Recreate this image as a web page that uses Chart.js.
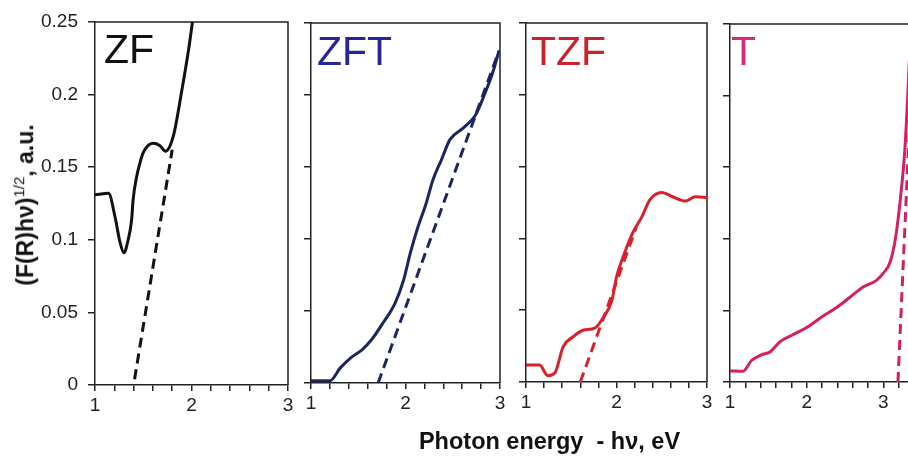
<!DOCTYPE html>
<html><head><meta charset="utf-8">
<script src="https://cdn.jsdelivr.net/npm/chart.js@4/dist/chart.umd.min.js"></script>
<style>
html,body{margin:0;padding:0;background:#fff;}
body{width:908px;height:456px;overflow:hidden;position:relative;font-family:"Liberation Sans",Arial,sans-serif;}
canvas{position:absolute;top:0;}
.lbl{position:absolute;font-size:41px;line-height:41px;white-space:nowrap;}
#xt{position:absolute;left:0;width:1099px;text-align:center;top:427px;font-weight:bold;font-size:23.5px;line-height:28px;color:#111;white-space:nowrap;}
#yt{position:absolute;left:22px;top:205px;width:0;height:0;}
#yt span{position:absolute;transform:translate(-50%,-50%) rotate(-90deg);font-weight:bold;font-size:23px;line-height:24px;color:#111;white-space:nowrap;}
#yt sup{font-weight:normal;font-size:15px;}
</style></head><body>
<canvas id="c1"></canvas><canvas id="c2"></canvas><canvas id="c3"></canvas><canvas id="c4"></canvas>
<div class="lbl" style="left:104px;top:29px;color:#111;">ZF</div>
<div class="lbl" style="left:317px;top:31px;color:#26259a;">ZFT</div>
<div class="lbl" style="left:531px;top:31px;color:#c9222b;">TZF</div>
<div class="lbl" style="left:731px;top:31px;color:#d82a78;">T</div>
<div id="xt">Photon energy&nbsp; - hν, eV</div>
<div id="yt"><span>(F(R)hν)<sup>1/2</sup>, a.u.</span></div>
<script>
// ---- data ----
const panelNames = ['ZF', 'ZFT', 'TZF', 'T'];
const xTickLabels = ['1', '2', '3'];
const yTickLabels = ['0', '0.05', '0.1', '0.15', '0.2', '0.25'];

const zfX = [1.00, 1.14, 1.21, 1.26, 1.30, 1.34, 1.38, 1.394, 1.43, 1.466, 1.50, 1.60, 1.67, 1.73, 1.81, 1.90, 1.97, 2.01];
const zfY = [0.131, 0.132, 0.115, 0.098, 0.091, 0.099, 0.114, 0.127, 0.143, 0.153, 0.160, 0.1665, 0.165, 0.161, 0.171, 0.203, 0.231, 0.250];
const zfFitX = [1.41, 1.80];
const zfFitY = [0.004, 0.162];

const zftX = [1.00, 1.20, 1.31, 1.43, 1.54, 1.64, 1.76, 1.89, 1.98, 2.05, 2.13, 2.22, 2.29, 2.38, 2.47, 2.61, 2.74, 2.84, 2.93, 2.99];
const zftY = [0.0015, 0.0015, 0.0105, 0.018, 0.023, 0.030, 0.0415, 0.0555, 0.0715, 0.090, 0.108, 0.125, 0.141, 0.155, 0.169, 0.177, 0.186, 0.201, 0.217, 0.231];
const zftFitX = [1.71, 2.98];
const zftFitY = [0.0, 0.229];

const tzfX = [1.00, 1.15, 1.24, 1.32, 1.41, 1.52, 1.63, 1.76, 1.85, 1.95, 2.00, 2.09, 2.18, 2.28, 2.37, 2.50, 2.62, 2.76, 2.87, 3.00];
const tzfY = [0.0118, 0.0118, 0.0045, 0.0065, 0.0245, 0.0315, 0.036, 0.0375, 0.0445, 0.057, 0.073, 0.090, 0.104, 0.115, 0.127, 0.132, 0.129, 0.126, 0.129, 0.1285];
const tzfFitX = [1.60, 2.22];
const tzfFitY = [0.0, 0.108];

const tX = [1.00, 1.17, 1.28, 1.41, 1.52, 1.65, 1.80, 2.00, 2.21, 2.39, 2.56, 2.74, 2.91, 3.00, 3.09, 3.16, 3.22, 3.28, 3.32, 3.36];
const tY = [0.0077, 0.0075, 0.015, 0.019, 0.021, 0.028, 0.0325, 0.038, 0.046, 0.052, 0.059, 0.0665, 0.071, 0.076, 0.084, 0.101, 0.127, 0.162, 0.202, 0.250];
const tFitX = [3.19, 3.40];
const tFitY = [0.0, 0.25];

// ---- helpers ----
function pts(xs, ys) { return xs.map((x, i) => ({x: x, y: ys[i]})); }

const framePlugin = {
  id: 'frame',
  beforeDatasetsDraw(chart) {
    const {ctx, chartArea: a} = chart;
    ctx.save();
    ctx.strokeStyle = '#222';
    ctx.lineWidth = 1.5;
    ctx.beginPath();
    ctx.moveTo(a.left, a.top);
    ctx.lineTo(a.right, a.top);
    ctx.lineTo(a.right, a.bottom);
    ctx.stroke();
    ctx.restore();
  }
};

const panels = [
  {id: 'c1', left: 95, right: 288, top: 22, bottom: 385, xmax: 3, showY: true,
   color: '#111111', solid: pts(zfX, zfY), fit: pts(zfFitX, zfFitY)},
  {id: 'c2', left: 311, right: 500, top: 23, bottom: 383, xmax: 3, showY: false,
   color: '#1d2560', solid: pts(zftX, zftY), fit: pts(zftFitX, zftFitY)},
  {id: 'c3', left: 526, right: 707, top: 23, bottom: 382, xmax: 3, showY: false,
   color: '#d6222a', solid: pts(tzfX, tzfY), fit: pts(tzfFitX, tzfFitY)},
  {id: 'c4', left: 730, right: 921.7, top: 24, bottom: 382, xmax: 3.5, showY: false,
   color: '#d41f62', solid: pts(tX, tY), fit: pts(tFitX, tFitY)}
];

const tickFont = {family: '"Liberation Sans", Arial, sans-serif', size: 19};
const rightPad = 10;

panels.forEach(p => {
  const yW = p.showY ? p.left : 12;
  const cv = document.getElementById(p.id);
  const w = Math.ceil(yW + (p.right - p.left) + rightPad);
  cv.width = w; cv.height = 456;
  cv.style.left = (p.left - yW) + 'px';
  cv.style.width = w + 'px'; cv.style.height = '456px';
  new Chart(cv, {
    type: 'line',
    data: {
      datasets: [
        {data: p.solid, borderColor: p.color, borderWidth: 3, pointRadius: 0,
         cubicInterpolationMode: 'monotone', fill: false},
        {data: p.fit, borderColor: p.color, borderWidth: 3, pointRadius: 0,
         borderDash: [10, 6], tension: 0, fill: false}
      ]
    },
    options: {
      responsive: false, animation: false, devicePixelRatio: 1, events: [],
      layout: {padding: {left: 0, right: (w - yW - (p.right - p.left)), top: p.top, bottom: 0}},
      plugins: {legend: {display: false}, tooltip: {enabled: false}, title: {display: false}},
      scales: {
        x: {
          type: 'linear', min: 1, max: p.xmax,
          afterFit(s) { s.height = 456 - p.bottom; s.paddingLeft = 0; s.paddingRight = 0; },
          ticks: {stepSize: 0.2, autoSkip: false, maxRotation: 0, padding: 3, color: '#222', font: tickFont,
            callback(v) {
              const r = Math.round(v);
              if (Math.abs(v - r) > 1e-6) return '';
              const idx = r - 1;
              return idx >= 0 && idx < xTickLabels.length ? xTickLabels[idx] : '';
            }},
          grid: {display: true, drawOnChartArea: false, drawTicks: true, tickLength: 6, color: '#222', lineWidth: 1.5},
          border: {display: true, color: '#222', width: 1.5}
        },
        y: {
          type: 'linear', min: 0, max: 0.25,
          afterFit(s) { s.width = yW; s.paddingTop = 0; s.paddingBottom = 0; },
          ticks: {stepSize: 0.05, padding: 10, color: '#222', font: tickFont,
            callback(v) {
              if (!p.showY) return '';
              const idx = Math.round(v / 0.05);
              return yTickLabels[idx] !== undefined ? yTickLabels[idx] : '';
            }},
          grid: {display: true, drawOnChartArea: false, drawTicks: true, tickLength: 7, color: '#222', lineWidth: 1.5},
          border: {display: true, color: '#222', width: 1.5}
        }
      }
    },
    plugins: [framePlugin]
  });
});
</script>
</body></html>
